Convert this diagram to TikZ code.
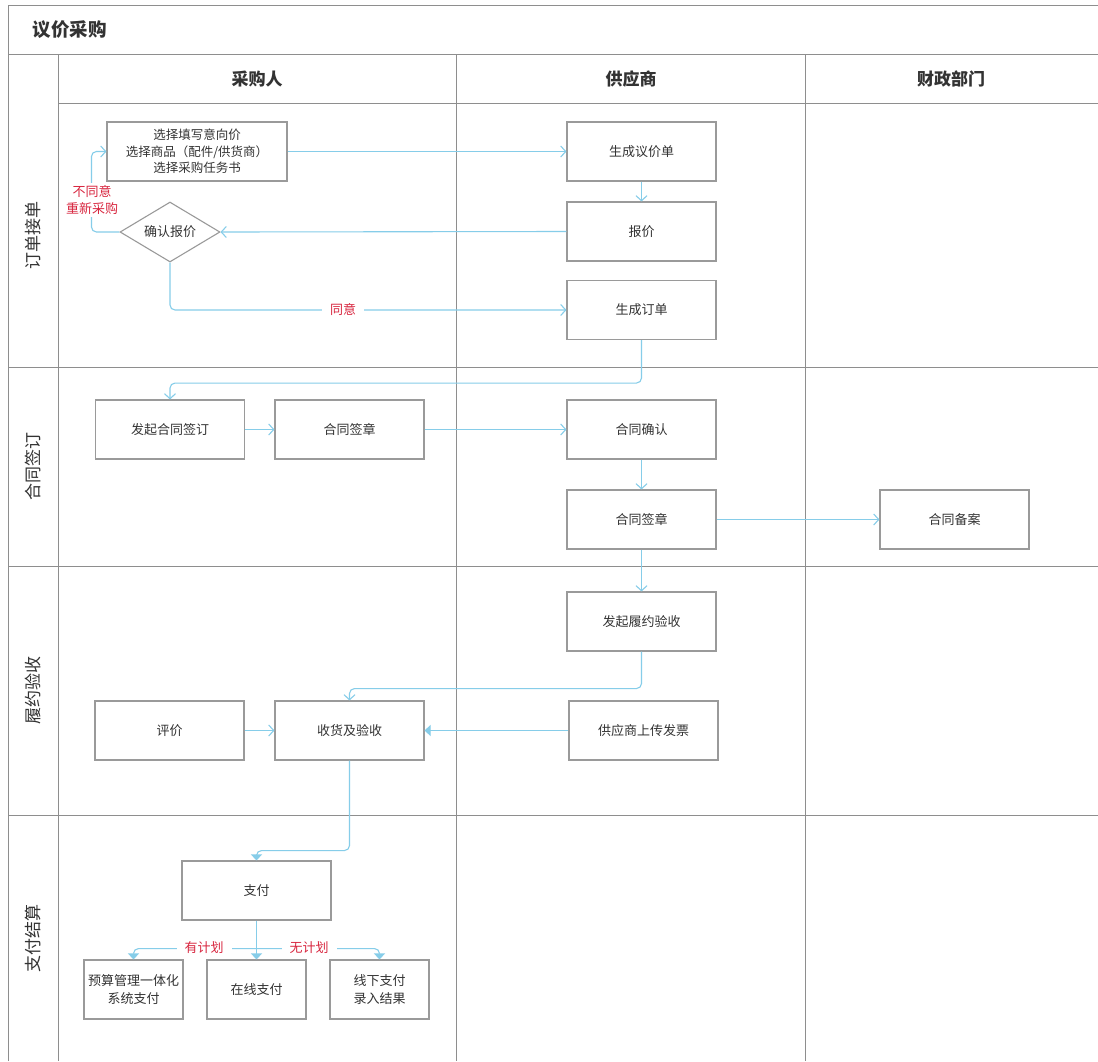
\documentclass[tikz,border=0pt]{standalone}
\usepackage{fontspec}
\setmainfont{Noto Sans CJK SC}
\usetikzlibrary{shapes.geometric,arrows.meta}
\definecolor{lanegray}{HTML}{8E8E8E}
\definecolor{boxgray}{HTML}{9A9A9A}
\definecolor{flow}{HTML}{86CDE9}
\definecolor{txt}{HTML}{333333}
\definecolor{redlab}{HTML}{D8263F}
\begin{document}
\begin{tikzpicture}[x=1pt,y=-1pt,
 lane/.style={draw=lanegray,line width=0.9pt},
 box/.style={draw=boxgray,line width=1.1pt,rectangle,inner sep=2pt,align=center,text=txt,font=\fontsize{13}{18}\selectfont,minimum width=149pt,minimum height=59pt},
 sbox/.style={box,minimum width=99pt},
 flowline/.style={draw=flow,line width=1.1pt,rounded corners=5pt},
 openarr/.style={flowline,-{Straight Barb[length=5pt,width=11pt]}},
 fillarr/.style={flowline,-{Triangle[length=6pt,width=11pt]}},
 lab/.style={text=redlab,fill=white,font=\fontsize{13}{17}\selectfont,inner sep=2pt,align=center},
 head/.style={text=txt,font=\fontsize{17}{20}\selectfont\bfseries},
 lanelab/.style={text=txt,font=\fontsize{17}{20}\selectfont,rotate=90}
]
\useasboundingbox (0,0) rectangle (1098,1061);
\fill[white] (0,0) rectangle (1098,1061);
% frame and lanes
\draw[lane] (8,1061) -- (8,5) -- (1098,5);
\draw[lane] (8,54) -- (1098,54);
\draw[lane] (58,103) -- (1098,103);
\draw[lane] (58,54) -- (58,1061);
\draw[lane] (456,54) -- (456,1061);
\draw[lane] (805,54) -- (805,1061);
\draw[lane] (8,367) -- (1098,367);
\draw[lane] (8,566) -- (1098,566);
\draw[lane] (8,815) -- (1098,815);
% title and headers
\node[head,anchor=west,font=\fontsize{18.5}{20}\selectfont\bfseries] (title) at (29,30) {议价采购};
\node[head] (h1) at (257,79) {采购人};
\node[head] (h2) at (631,79) {供应商};
\node[head] (h3) at (951,79) {财政部门};
\node[lanelab] (l1) at (33,235) {订单接单};
\node[lanelab] (l2) at (33,466) {合同签订};
\node[lanelab] (l3) at (33,690) {履约验收};
\node[lanelab] (l4) at (33,938) {支付结算};
% nodes
\node[box,minimum width=180pt,font=\fontsize{12.5}{16.5}\selectfont] (b1) at (197,151.5) {选择填写意向价\\选择商品（配件/供货商）\\选择采购任务书};
\node[box] (q1) at (641.5,151.5) {生成议价单};
\node[box] (q2) at (641.5,231.5) {报价};
\node[box] (ord) at (641.5,310) {生成订单};
\node[diamond,draw=boxgray,line width=1.1pt,aspect=1.67,minimum width=100pt,minimum height=60pt,inner sep=0pt,text=txt,font=\fontsize{13}{17}\selectfont] (d) at (170,232) {确认报价};
\node[box] (s1) at (170,429.5) {发起合同签订};
\node[box] (s2) at (349.5,429.5) {合同签章};
\node[box] (c1) at (641.5,429.5) {合同确认};
\node[box] (c2) at (641.5,519.5) {合同签章};
\node[box] (arch) at (954.5,519.5) {合同备案};
\node[box] (acc) at (641.5,621.5) {发起履约验收};
\node[box] (eval) at (169.5,730.5) {评价};
\node[box] (recv) at (349.5,730.5) {收货及验收};
\node[box] (inv) at (643.5,730.5) {供应商上传发票};
\node[box] (pay) at (256.5,890.5) {支付};
\node[sbox] (p1) at (133.5,989.5) {预算管理一体化\\系统支付};
\node[sbox] (p2) at (256.5,989.5) {在线支付};
\node[sbox] (p3) at (379.5,989.5) {线下支付\\录入结果};
% connectors
\draw[openarr] (b1.east) -- (q1.west);
\draw[openarr] (q1.south) -- (q2.north);
\draw[openarr] (q2.west) -- (d.east);
\draw[openarr] (d.west) -- ++(-28,0) |- (b1.west);
\node[lab] (lno) at (92,200) {不同意\\重新采购};
\draw[openarr] (d.south) |- (ord.west);
\node[lab,inner xsep=8pt] (lyes) at (343,310) {同意};
\draw[openarr] (ord.south) -- ++(0,43) -| (s1.north);
\draw[openarr] (s1.east) -- (s2.west);
\draw[openarr] (s2.east) -- (c1.west);
\draw[openarr] (c1.south) -- (c2.north);
\draw[openarr] (c2.east) -- (arch.west);
\draw[openarr] (c2.south) -- (acc.north);
\draw[openarr] (acc.south) -- ++(0,37) -| (recv.north);
\draw[fillarr] (inv.west) -- (recv.east);
\draw[openarr] (eval.east) -- (recv.west);
\draw[fillarr] (recv.south) -- ++(0,90) -| (pay.north);
\draw[fillarr] (pay.south) -- (p2.north);
\path (pay.south) ++(0,28) coordinate (br);
\draw[fillarr] (br) -| (p1.north);
\draw[fillarr] (br) -| (p3.north);
\node[lab,inner xsep=8pt] (lplan) at (204,948) {有计划};
\node[lab,inner xsep=8pt] (lnoplan) at (309,948) {无计划};
\end{tikzpicture}
\end{document}
